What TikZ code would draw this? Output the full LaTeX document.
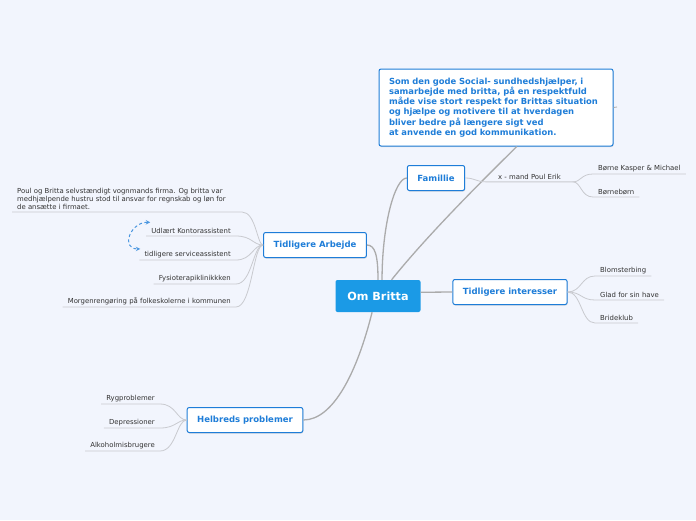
\documentclass[tikz,border=0pt]{standalone}
\usepackage{fontspec}
\setmainfont{DejaVu Sans}
\usepackage{xcolor}
\usetikzlibrary{positioning, shapes, arrows, shadows}

\definecolor{bgcol}{HTML}{F2F5FD}
\definecolor{topicblue}{HTML}{1E7DD8}
\definecolor{mainblue}{HTML}{1B9AE6}
\definecolor{subtext}{HTML}{333333}
\definecolor{subline}{HTML}{C9CACF}
\definecolor{mainline}{HTML}{ABABAB}

\begin{document}
\begin{tikzpicture}[x=1pt, y=-1pt, >={stealth},
  main/.style={rectangle, fill=mainblue, text=white, rounded corners=2pt,
    minimum width=85pt, minimum height=32pt, font=\bfseries\fontsize{11.2}{13}\selectfont},
  topic/.style={rectangle, draw=topicblue, line width=1pt, fill=white, rounded corners=2pt,
    text=topicblue, inner xsep=10pt, minimum height=25pt,
    font=\bfseries\fontsize{8.5}{10}\selectfont,
    drop shadow={shadow xshift=0.5pt, shadow yshift=-1pt, opacity=0.25}},
  sub/.style={inner xsep=5pt, inner ysep=2pt, text=subtext, font=\fontsize{6.9}{8}\selectfont},
  mainlink/.style={draw=mainline, line width=1.3pt},
  sublink/.style={draw=subline, line width=0.8pt},
  dasharrow/.style={draw=topicblue!80, line width=1pt, dash pattern=on 3pt off 2.5pt, <->}]

  \fill[bgcol] (0,0) rectangle (696,520);

  % main topics
  \node (britta) [main] at (378,296) {Om Britta};
  \node (callout) [topic, text width=214pt, align=left, minimum height=77pt,
    font=\bfseries\fontsize{8.4}{10.2}\selectfont] at (496,107.5)
    {Som den gode Social- sundhedshjælper, i\\samarbejde med britta, på en respektfuld\\måde vise stort respekt for Brittas situation\\og hjælpe og motivere til at hverdagen\\bliver bedre på længere sigt ved\\at anvende en god kommunikation.};
  \node (familie) [topic] at (436,178) {Famillie};
  \node (arbejde) [topic] at (315,245) {Tidligere Arbejde};
  \node (interesser) [topic] at (510,292) {Tidligere interesser};
  \node (helbred) [topic] at (245,420) {Helbreds problemer};

  \draw [mainlink] (britta.north) .. controls +(0,-25) and +(8,0) .. (arbejde.east);
  \draw [mainlink] (britta.76) .. controls +(0,-55) and +(-12,0) .. (familie.west);
  \draw [mainlink] (britta.50) .. controls +(40,-50) and +(-20,20) .. (callout.-62);
  \draw [mainlink] (britta.5) -- (interesser.west);
  \draw [mainlink] (britta.250) .. controls +(-15,60) and +(30,0) .. (helbred.east);
  \coordinate (stub) at (617,107);
  \draw [mainline, line width=0.8pt] (callout.east) -- (stub);

  % Tidligere Arbejde
  \node (poul) [sub, anchor=south west, align=left] at (12,212)
    {Poul og Britta selvstændigt vognmands firma. Og britta var\\medhjælpende hustru stod til ansvar for regnskab og løn for\\de ansætte i firmaet.};
  \node (udlaert) [sub, anchor=south east] at (236,236) {Udlært Kontorassistent};
  \node (service) [sub, anchor=south east] at (236,260) {tidligere serviceassistent};
  \node (fysio) [sub, anchor=south east] at (236,284) {Fysioterapiklinikkken};
  \node (morgen) [sub, anchor=south east] at (236,307) {Morgenrengøring på folkeskolerne i kommunen};
  \coordinate (poulend) at (242,212);
  \draw [sublink] (poul.south west) -- (poulend) .. controls +(14,0) and +(-6,0) .. (arbejde.west);
  \foreach \n in {udlaert, service, fysio, morgen}
    \draw [sublink] (\n.south west) -- (\n.south east) .. controls +(16,0) and +(-10,0) .. (arbejde.west);
  \draw [dasharrow] ([xshift=4pt, yshift=4pt]udlaert.north west) to[out=180, in=180, looseness=1.8] ([xshift=1pt]service.north west);

  % Familie
  \node (poulerik) [sub, inner xsep=12pt] at (529.5,177) {x - mand Poul Erik};
  \node (boern) [sub, anchor=south west] at (593,174) {Børne Kasper \& Michael};
  \node (boernboern) [sub, anchor=south west] at (593,197) {Børnebørn};
  \draw [sublink] (familie.east) .. controls +(10,0) and +(-10,0) .. (poulerik.south west) -- (poulerik.south east);
  \foreach \n in {boern, boernboern}
    \draw [sublink] (poulerik.south east) .. controls +(8,0) and +(-12,0) .. (\n.south west) -- (\n.south east);

  % Tidligere interesser
  \node (blomster) [sub, anchor=south west] at (595,276) {Blomsterbing};
  \node (have) [sub, anchor=south west] at (595,300) {Glad for sin have};
  \node (bride) [sub, anchor=south west] at (595,323) {Brideklub};
  \foreach \n in {blomster, have, bride}
    \draw [sublink] (interesser.east) .. controls +(14,0) and +(-14,0) .. (\n.south west) -- (\n.south east);

  % Helbreds problemer
  \node (ryg) [sub, anchor=south east] at (160,404) {Rygproblemer};
  \node (depr) [sub, anchor=south east] at (160,428) {Depressioner};
  \node (alko) [sub, anchor=south east] at (160,451) {Alkoholmisbrugere};
  \foreach \n in {ryg, depr, alko}
    \draw [sublink] (\n.south west) -- (\n.south east) .. controls +(16,0) and +(-10,0) .. (helbred.west);
\end{tikzpicture}
\end{document}
